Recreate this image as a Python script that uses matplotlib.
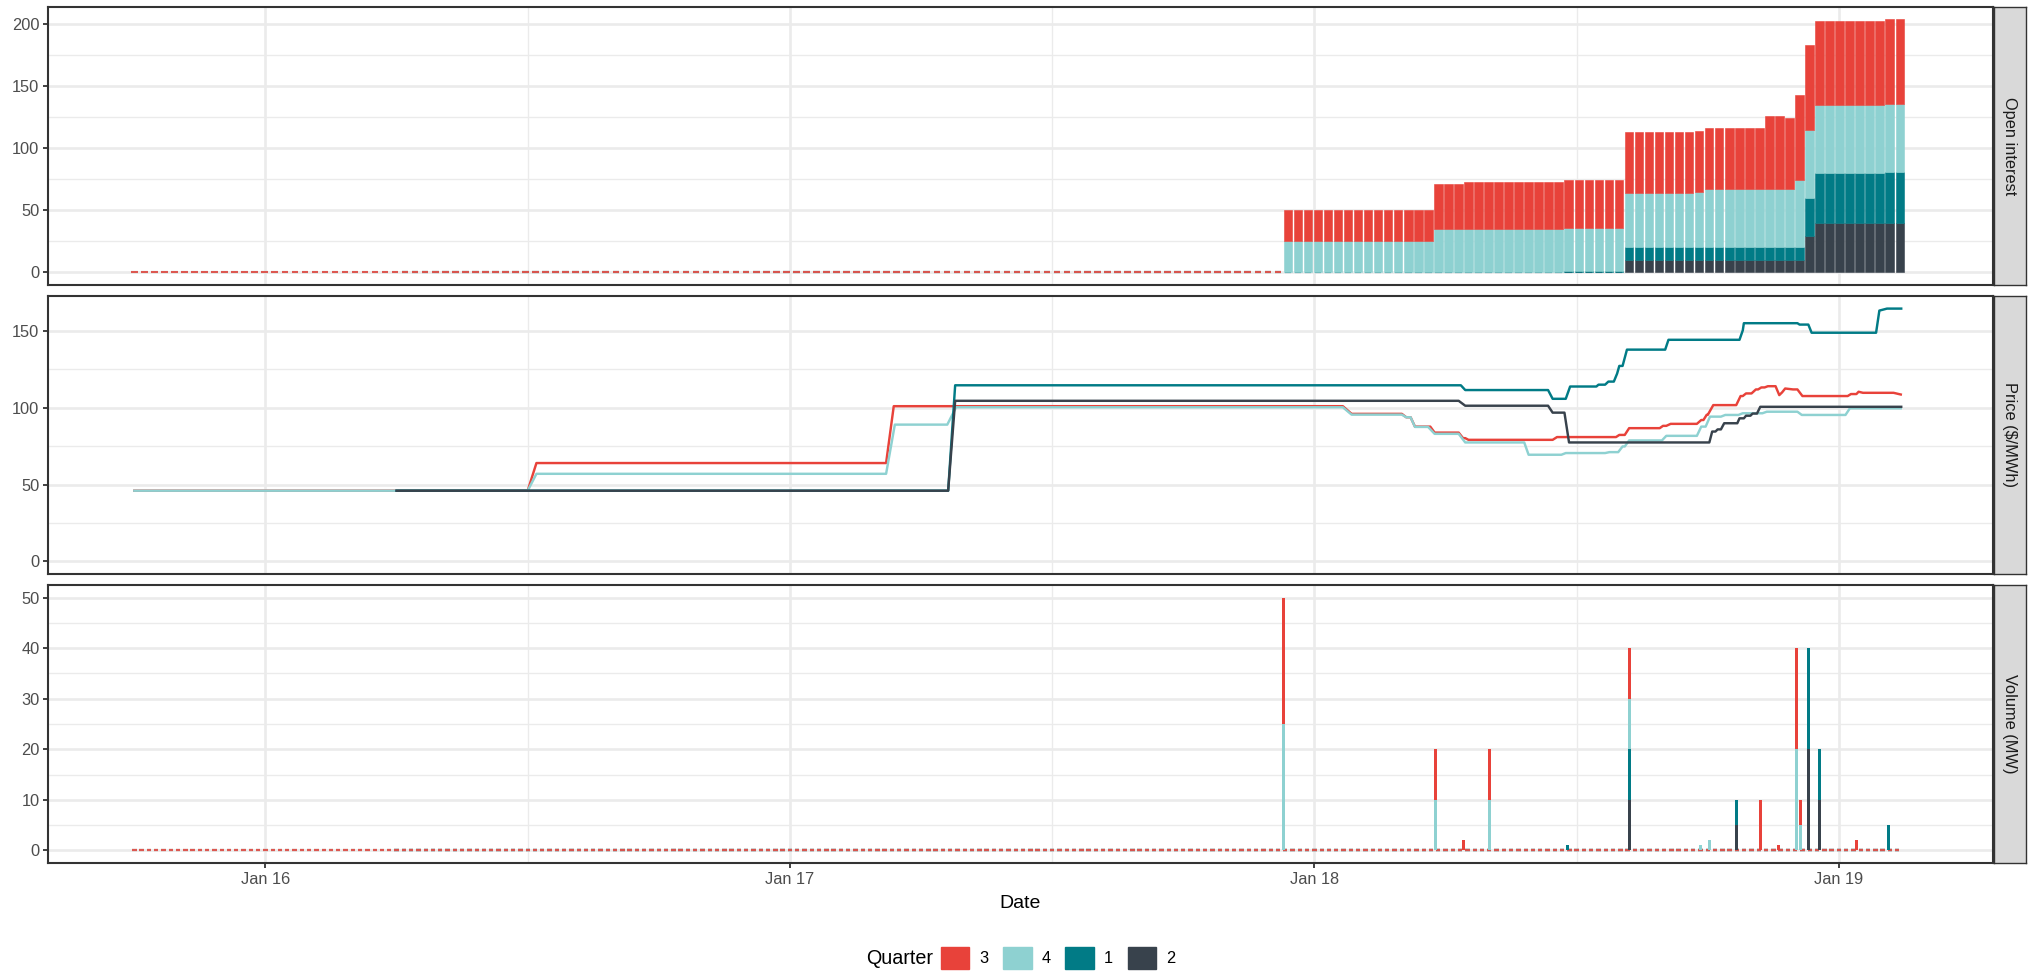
import numpy as np
import pandas as pd
import matplotlib
matplotlib.use("Agg")
import matplotlib.pyplot as plt
import matplotlib.dates as mdates
from matplotlib.patches import Patch
from matplotlib.ticker import MultipleLocator

plt.rcParams['font.family'] = ['Liberation Sans', 'DejaVu Sans']

# quarters in legend order, and their colours
quarters = ['3', '4', '1', '2']
colours = {'3': '#E8423A', '4': '#8ED1D1', '1': '#017B86', '2': '#38424C'}
stack_order = ['2', '1', '4', '3']          # bottom -> top of each stack
first_hour = {'3': -54.0, '4': -54.0, '1': -42.0, '2': -42.0}

# all times are hours relative to Jan 18 00:00
snap_start_h = -54.0
snap_step_h = 0.459
n_snap = 177
n_oi_zero = 115       # snapshots before any open interest

# open interest (MW) for the last 62 snapshots
oi_q3 = [25, 25, 25, 25, 25, 25, 25, 25, 25, 25, 25, 25, 25, 25, 25,
         36, 36, 36,
         38, 38, 38, 38, 38, 38, 38, 38, 38, 38, 38, 38, 38, 38, 38, 38,
         49, 49, 49, 49, 49, 49, 49, 49, 49, 49, 49, 49, 49, 49,
         59, 59, 57.5,
         68, 68, 68, 68, 68, 68, 68, 68, 68, 68, 68]
oi_q4 = [25, 25, 25, 25, 25, 25, 25, 25, 25, 25, 25, 25, 25, 25, 25,
         35, 35, 35, 35, 35, 35, 35, 35, 35, 35, 35, 35, 35, 35, 35, 35, 35, 35, 35,
         44, 44, 44, 44, 44, 44, 44,
         45,
         47, 47, 47, 47, 47, 47, 47, 47, 47,
         54.5,
         55, 55, 55, 55, 55, 55, 55, 55, 55, 55]
oi_q1 = [0, 0, 0, 0, 0, 0, 0, 0, 0, 0, 0, 0, 0, 0, 0, 0, 0, 0, 0, 0, 0, 0, 0, 0, 0, 0, 0, 0,
         1, 1, 1, 1, 1, 1,
         10, 10, 10, 10, 10, 10, 10, 10, 10, 10, 10, 10, 10, 10, 10, 10, 10, 10,
         30,
         40, 40, 40, 40, 40, 40, 40,
         41, 41]
oi_q2 = [0, 0, 0, 0, 0, 0, 0, 0, 0, 0, 0, 0, 0, 0, 0, 0, 0, 0, 0, 0, 0, 0, 0, 0, 0, 0, 0, 0,
         0, 0, 0, 0, 0, 0,
         10, 10, 10, 10, 10, 10, 10, 10, 10, 10, 10, 10, 10, 10, 10, 10, 10, 10,
         29.5,
         39.5, 39.5, 39.5, 39.5, 39.5, 39.5, 39.5, 39.5, 39.5]

# price ($/MWh) line vertices
price_h = {
    '3': [-54, -36.0, -35.6, -19.6, -19.25, 1.3, 1.7, 4.0, 4.2, 4.4, 4.6, 5.3, 5.5, 6.6, 6.8, 6.9,
          7.05, 10.9, 11.1, 13.8, 13.95, 14.2, 14.4, 15.8, 15.95, 16.1, 16.3, 17.5, 17.7, 17.8,
          17.95, 18.0, 18.25, 19.3, 19.5, 19.6, 19.75, 20.0, 20.2, 20.3, 20.45, 20.6, 20.75,
          21.1, 21.27, 21.4, 21.54, 21.9, 22.1, 22.33, 24.4, 24.55, 24.8, 24.9, 25.1, 26.5, 26.83],
    '4': [-54, -36.0, -35.6, -19.6, -19.2, -16.8, -16.4, 1.3, 1.7, 4.0, 4.2, 4.4, 4.6, 5.2, 5.5,
          6.6, 6.9, 9.6, 9.8, 11.3, 11.5, 13.3, 13.5, 13.9, 14.1, 14.2, 14.4, 15.9, 16.1, 17.5,
          17.7, 17.9, 18.1, 18.6, 18.8, 19.4, 19.6, 20.5, 20.7, 22.1, 22.3, 24.3, 24.5, 26.83],
    '1': [-42, -16.76, -16.44, 6.7, 6.9, 10.69, 10.9, 11.5, 11.7, 12.9, 13.0, 13.3, 13.45, 13.7,
          13.85, 13.95, 14.1, 14.3, 16.05, 16.2, 19.45, 19.6, 19.65, 22.1, 22.2, 22.6, 22.75,
          25.7, 25.85, 26.2, 26.85],
    '2': [-42, -16.76, -16.44, 6.6, 6.9, 10.69, 10.9, 11.44, 11.65, 18.07, 18.2, 18.35, 18.45,
          18.6, 18.75, 19.35, 19.45, 19.65, 19.75, 19.95, 20.05, 20.25, 20.4, 26.85],
}
price_v = {
    '3': [46, 46, 64, 64, 101, 101, 96, 96, 93.8, 93.8, 87.7, 87.7, 83.8, 83.8, 80.2, 80.2,
          79.1, 79.1, 80.9, 80.9, 82.3, 82.3, 86.7, 86.7, 88.2, 88.2, 89.5, 89.5, 92, 92,
          95.4, 95.4, 101.7, 101.7, 107.6, 107.6, 109.3, 109.3, 111.9, 111.9, 113.2, 113.2, 114,
          114, 108.2, 110, 112.5, 111.9, 111.9, 107.6, 107.6, 108.9, 108.9, 110.4, 109.7, 109.7, 108.6],
    '4': [46, 46, 57, 57, 89, 89, 100.3, 100.3, 95.5, 95.5, 93.8, 93.8, 87.5, 87.5, 83,
          83, 77.4, 77.4, 69.4, 69.4, 70.5, 70.5, 71.1, 71.1, 74.8, 74.8, 78.7, 78.7, 81.7, 81.7,
          87.7, 87.7, 94.2, 94.2, 95.3, 95.3, 96.4, 96.4, 97.4, 97.4, 95.3, 95.3, 99.6, 99.6],
    '1': [46, 46, 114.6, 114.6, 111.5, 111.5, 105.8, 105.8, 113.8, 113.8, 115, 115, 117, 117,
          122.2, 127.2, 127.2, 137.8, 137.8, 144.2, 144.2, 150.3, 155, 155, 154.1, 154.1, 148.8,
          148.8, 163.2, 164.5, 164.5],
    '2': [46, 46, 104.5, 104.5, 101.3, 101.3, 96.8, 96.8, 77.4, 77.4, 84.5, 84.5, 85.9,
          85.9, 89.9, 89.9, 93.1, 93.1, 94.8, 94.8, 96.2, 96.2, 100.6, 100.6],
}

# traded volume (MW)
vol_h = [-1.40, 5.56, 6.84, 8.03, 11.59, 14.41, 17.67, 18.07, 19.32, 20.42, 21.23,
         22.07, 22.25, 22.60, 23.10, 24.81, 26.26]
vol_q3 = [25, 10, 2, 10, 0, 10, 0, 0, 0, 10, 1, 20, 5, 0, 0, 2, 0]
vol_q4 = [25, 10, 0, 10, 0, 10, 1, 2, 0, 0, 0, 20, 5, 0, 0, 0, 0]
vol_q1 = [0, 0, 0, 0, 1, 10, 0, 0, 5, 0, 0, 0, 0, 20, 10, 0, 5]
vol_q2 = [0, 0, 0, 0, 0, 10, 0, 0, 5, 0, 0, 0, 0, 20, 10, 0, 0]
vol_grid_step_h = 1 / 3
n_vol_grid = 243

strip_labels = ['Open interest', 'Price (\\$/MWh)', 'Volume (MW)']

# ---------------------------------------------------------------------------
base = mdates.date2num(pd.Timestamp('2018-01-18'))


def hx(h):
    return base + np.asarray(h, dtype=float) / 24.0


snap_h = snap_start_h + snap_step_h * np.arange(n_snap)
oi = {q: np.concatenate([np.zeros(n_oi_zero), np.array(v, dtype=float)])
      for q, v in zip(['3', '4', '1', '2'], [oi_q3, oi_q4, oi_q1, oi_q2])}
vol = {'3': np.array(vol_q3, float), '4': np.array(vol_q4, float),
       '1': np.array(vol_q1, float), '2': np.array(vol_q2, float)}
vol_grid_h = snap_start_h + vol_grid_step_h * np.arange(n_vol_grid)

W, H = 2031, 974
fig = plt.figure(figsize=(W / 100, H / 100), dpi=100)

left, right = 48 / W, 1993 / W
panel_px = [(7, 285), (296, 574), (585, 863)]
axs = []
for top, bot in panel_px:
    ax = fig.add_axes([left, 1 - bot / H, right - left, (bot - top) / H])
    axs.append(ax)
    sax = fig.add_axes([1994 / W, 1 - bot / H, 32 / W, (bot - top) / H])
    sax.set_facecolor('#D9D9D9')
    sax.set_xticks([])
    sax.set_yticks([])
    for s in sax.spines.values():
        s.set_color('#333333')
        s.set_linewidth(1.0)
    sax.text(0.5, 0.5, strip_labels[len(axs) - 1], rotation=-90, ha='center', va='center',
             fontsize=11.8, color='#1A1A1A', transform=sax.transAxes)

ax0, ax1, ax2 = axs

# open interest: stacked bars, zero entries show as short dashes
bottom = np.zeros(n_snap)
for q in stack_order:
    keep = snap_h >= first_hour[q] - 1e-6
    vals = oi[q][keep]
    nz = vals > 0
    ax0.bar(hx(snap_h[keep][nz]), vals[nz], width=0.39 / 24, bottom=bottom[keep][nz],
            color=colours[q], edgecolor=colours[q], linewidth=0.4, zorder=2)
    ax0.bar(hx(snap_h[keep][~nz]), vals[~nz], width=0.3 / 24, bottom=bottom[keep][~nz],
            color=colours[q], edgecolor=colours[q], linewidth=1.5, alpha=0.85, zorder=2)
    bottom += oi[q]

# price lines
for q in quarters:
    ax1.plot(hx(price_h[q]), price_v[q], color=colours[q], linewidth=1.75, zorder=2)

# volume: zero baseline then stacked spikes
for q in stack_order:
    keep = vol_grid_h >= first_hour[q] - 1e-6
    ax2.bar(hx(vol_grid_h[keep]), np.zeros(keep.sum()), width=0.2 / 24,
            color=colours[q], edgecolor=colours[q], linewidth=1.6, alpha=0.85, zorder=2)
vbottom = np.zeros(len(vol_h))
for q in stack_order:
    ax2.bar(hx(vol_h), vol[q], width=0.14 / 24, bottom=vbottom,
            color=colours[q], linewidth=0, zorder=3)
    vbottom += vol[q]

# axes styling
ylims = [(-10.2, 213.4), (-8.2, 172.7), (-2.5, 52.5)]
ymaj = [50, 50, 10]
for ax, yl, ym in zip(axs, ylims, ymaj):
    ax.set_xlim(hx(-57.95), hx(31.05))
    ax.set_ylim(*yl)
    ax.yaxis.set_major_locator(MultipleLocator(ym))
    ax.yaxis.set_minor_locator(MultipleLocator(ym / 2))
    ax.xaxis.set_major_locator(mdates.DayLocator())
    ax.xaxis.set_minor_locator(mdates.HourLocator(byhour=[12]))
    ax.xaxis.set_major_formatter(mdates.DateFormatter('%b %d'))
    ax.set_axisbelow(True)
    ax.grid(which='major', color='#EBEBEB', linewidth=1.9)
    ax.grid(which='minor', color='#EBEBEB', linewidth=0.95)
    for s in ax.spines.values():
        s.set_color('#333333')
        s.set_linewidth(1.5)
    ax.tick_params(axis='both', which='major', length=3.7, width=1.3, color='#333333',
                   labelsize=11.8, labelcolor='#4D4D4D', pad=2.5)
    ax.tick_params(axis='both', which='minor', length=0)
    if ax is not ax2:
        ax.tick_params(axis='x', which='both', length=0, labelbottom=False)

ax2.set_xlabel('Date', fontsize=14, color='black', labelpad=6)

handles = [Patch(facecolor=colours[q], edgecolor=colours[q]) for q in quarters]
fig.legend(handles, quarters, loc='center', bbox_to_anchor=(1058 / W, 1 - 958 / H), ncol=4,
           frameon=False, fontsize=11.8, handlelength=1.75, handleheight=1.75,
           handletextpad=0.6, columnspacing=0.9, borderpad=0)
fig.text(933 / W, 1 - 958 / H, 'Quarter', ha='right', va='center', fontsize=14.2)

fig.savefig('out.png', dpi=100)
